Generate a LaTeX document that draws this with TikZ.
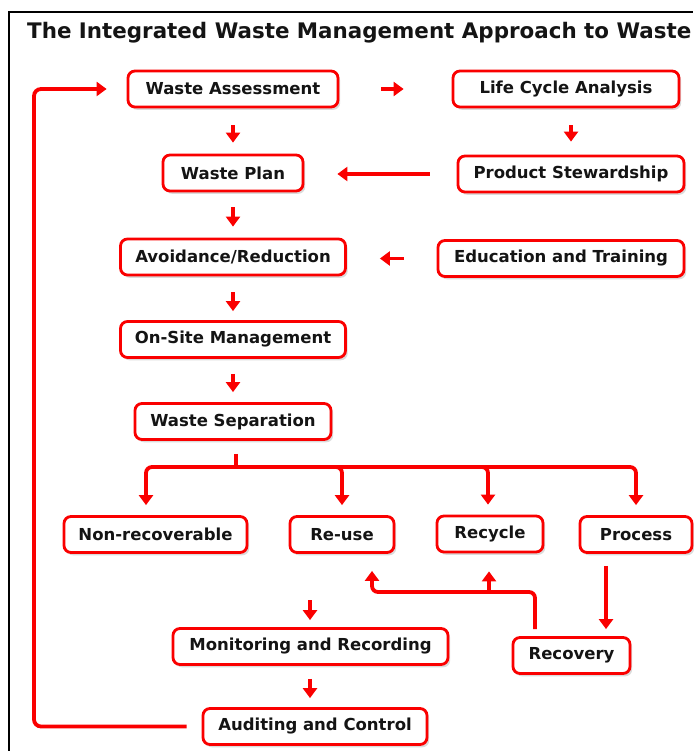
\documentclass[tikz,border=0pt]{standalone}
\usepackage{fontspec}
\setmainfont{DejaVu Sans}
\usetikzlibrary{arrows.meta,shadows,calc}
\definecolor{wred}{RGB}{250,0,0}
\definecolor{wtxt}{RGB}{20,20,20}
\begin{document}
\begin{tikzpicture}[x=1pt,y=-1pt,
  box/.style={draw=wred, line width=2.8pt, rounded corners=7pt, fill=white, text=wtxt,
    font=\bfseries\fontsize{16.5}{19}\selectfont, minimum height=36pt, inner sep=0pt,
    drop shadow={shadow xshift=2.2pt, shadow yshift=-2.8pt, fill=black!28}},
  arr/.style={draw=wred, line width=3.8pt, -{Triangle[width=14pt,length=10pt]}},
  ln/.style={draw=wred, line width=3.8pt, rounded corners=6pt}]
\useasboundingbox (0,0) rectangle (693,751);
\fill[white] (0,0) rectangle (693,751);
\draw[black, line width=1.8pt] (9,751) -- (9,12) -- (693,12);
\node[anchor=base west, inner sep=0pt, text=wtxt, font=\bfseries\fontsize{21.4}{25}\selectfont] (title) at (27,39) {The Integrated Waste Management Approach to Waste};

\node[box, minimum width=210pt] (wa) at (233,89) {Waste Assessment};
\node[box, minimum width=226pt] (lca) at (566,89) {Life Cycle Analysis};
\node[box, minimum width=140pt] (wp) at (233,173) {Waste Plan};
\node[box, minimum width=226pt] (ps) at (571,174) {Product Stewardship};
\node[box, minimum width=225pt] (ar) at (233,257) {Avoidance/Reduction};
\node[box, minimum width=246pt] (et) at (561,258.5) {Education and Training};
\node[box, minimum width=225pt] (osm) at (233,339.5) {On-Site Management};
\node[box, minimum width=196pt] (ws) at (233,421.5) {Waste Separation};
\node[box, minimum width=183pt] (nr) at (155.5,534.5) {Non-recoverable};
\node[box, minimum width=104pt] (ru) at (342,534.5) {Re-use};
\node[box, minimum width=106pt] (rc) at (490,534) {Recycle};
\node[box, minimum width=112pt] (pr) at (636,534.5) {Process};
\node[box, minimum width=275pt] (mr) at (310.5,646.5) {Monitoring and Recording};
\node[box, minimum width=224pt] (ac) at (315,726.5) {Auditing and Control};
\node[box, minimum width=117pt] (rec) at (571.5,655.5) {Recovery};

% left column
\draw[arr, shorten <=17pt, shorten >=11pt] (wa.south) -- (wp.north);
\draw[arr, shorten <=15pt, shorten >=11pt] (wp.south) -- (ar.north);
\draw[arr, shorten <=16pt, shorten >=9pt] (ar.south) -- (osm.north);
\draw[arr, shorten <=15pt, shorten >=10pt] (osm.south) -- (ws.north);
% right column and side arrows
\draw[arr, shorten <=42pt, shorten >=48pt] (wa.east) -- (lca.west);
\draw[arr, shorten <=17pt, shorten >=13pt] (ps.north |- lca.south) -- (ps.north);
\draw[arr, shorten <=27pt, shorten >=33pt] (ps.west) -- (wp.east |- ps.west);
\draw[arr, shorten <=33pt, shorten >=33pt] (et.west) -- (ar.east |- et.west);
% separation branches
\coordinate (bus) at (236,467);
\draw[ln, shorten <=13pt] (ws.south -| bus) -- (bus);
\draw[arr, rounded corners=6pt, shorten >=10pt] (bus) -| ([xshift=-9.5pt]nr.north);
\draw[arr, rounded corners=6pt, shorten >=10pt] (bus) -| (ru.north);
\draw[arr, rounded corners=6pt, shorten >=10pt] (bus) -| ([xshift=-2pt]rc.north);
\draw[arr, rounded corners=6pt, shorten >=10pt] (bus) -| (pr.north);
% recovery loop
\coordinate (rj) at (489,592);
\draw[ln, shorten <=7pt] ([xshift=-36.5pt]rec.north) |- (rj);
\draw[arr, rounded corners=6pt, shorten >=17pt] (rj) -| ([xshift=30pt]ru.south);
\draw[arr, shorten >=18pt] (rj) -- (rc.south -| rj);
\draw[arr, shorten <=12pt, shorten >=7pt] ([xshift=-30pt]pr.south) -- ([xshift=-30pt]pr.south |- rec.north);
% monitoring
\coordinate (mtop) at (310,600);
\draw[arr, shorten >=7pt] (mtop) -- (mtop |- mr.north);
\draw[arr, shorten <=13pt, shorten >=9pt] (mtop |- mr.south) -- (mtop |- ac.north);
% feedback loop
\coordinate (lp) at (34,400);
\draw[arr, rounded corners=7pt, shorten <=15pt, shorten >=20pt] (ac.west) -- (ac.west -| lp) -- (wa.west -| lp) -- (wa.west);
\end{tikzpicture}
\end{document}
